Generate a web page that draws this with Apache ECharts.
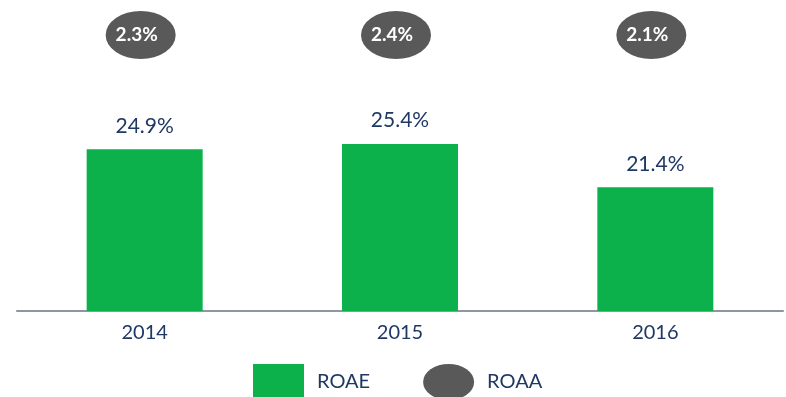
<!DOCTYPE html>
<html>
<head>
<meta charset="utf-8">
<script src="https://cdn.jsdelivr.net/npm/echarts@6/dist/echarts.min.js"></script>
<style>
  html, body { margin: 0; padding: 0; background: #ffffff; }
  #chart { width: 786px; height: 397px; }
</style>
</head>
<body>
<div id="chart"></div>
<script>
// Return ratios by year
const years = ['2014', '2015', '2016'];
const roae = [24.9, 25.4, 21.4];   // return on average equity, %
const roaa = [2.3, 2.4, 2.1];      // return on average assets, %

const navy = '#1F3864';
const green = '#0DB14B';
const grey = '#595959';
const FONT = 'Lato, "Open Sans", sans-serif';
// Ellipse outline, stretched to the symbol box
const ellipse = 'path://M0,50 A50,50 0 1,1 100,50 A50,50 0 1,1 0,50 Z';

const chart = echarts.init(document.getElementById('chart'), null, { renderer: 'canvas' });

chart.setOption({
  animation: false,
  backgroundColor: '#ffffff',
  textStyle: { fontFamily: FONT },
  legend: {
    left: 248,
    top: 359,
    itemWidth: 51,
    itemHeight: 36,
    itemGap: 53,
    symbolKeepAspect: false,
    textStyle: { color: navy, fontSize: 20, fontFamily: FONT, padding: [0, 0, 0, 8] },
    data: [
      { name: 'ROAE', icon: 'rect' },
      { name: 'ROAA', icon: ellipse }
    ]
  },
  grid: [
    { left: 17, right: 3, top: 94, bottom: 86 },
    { left: 17, right: 3, top: 11, height: 48 }
  ],
  xAxis: [
    {
      type: 'category',
      gridIndex: 0,
      data: years,
      axisLine: { lineStyle: { color: '#8E95A5', width: 2 } },
      axisTick: { show: false },
      axisLabel: { color: navy, fontSize: 20, margin: 12, fontFamily: FONT }
    },
    {
      type: 'category',
      gridIndex: 1,
      data: years,
      show: false
    }
  ],
  yAxis: [
    {
      type: 'value',
      gridIndex: 0,
      min: 10,
      max: 30,
      show: false,
      splitLine: { show: false }
    },
    {
      type: 'category',
      gridIndex: 1,
      data: ['ROAA'],
      show: false
    }
  ],
  series: [
    {
      name: 'ROAE',
      type: 'bar',
      xAxisIndex: 0,
      yAxisIndex: 0,
      data: roae,
      barWidth: 116,
      itemStyle: { color: green },
      label: {
        show: true,
        position: 'top',
        distance: 13,
        color: navy,
        fontSize: 21,
        fontFamily: FONT,
        formatter: p => p.value.toFixed(1) + '%'
      }
    },
    {
      name: 'ROAA',
      type: 'scatter',
      xAxisIndex: 1,
      yAxisIndex: 1,
      data: roaa.map((v, i) => [years[i], 'ROAA', v]),
      symbol: ellipse,
      symbolSize: [70, 48],
      symbolKeepAspect: false,
      symbolOffset: [-4, 0],
      itemStyle: { color: grey, opacity: 1 },
      emphasis: { disabled: true },
      label: {
        show: true,
        position: 'inside',
        offset: [-4, 0],
        color: '#ffffff',
        fontWeight: 'bold',
        fontSize: 19,
        fontFamily: FONT,
        formatter: p => p.value[2].toFixed(1) + '%'
      }
    }
  ]
});
</script>
</body>
</html>
